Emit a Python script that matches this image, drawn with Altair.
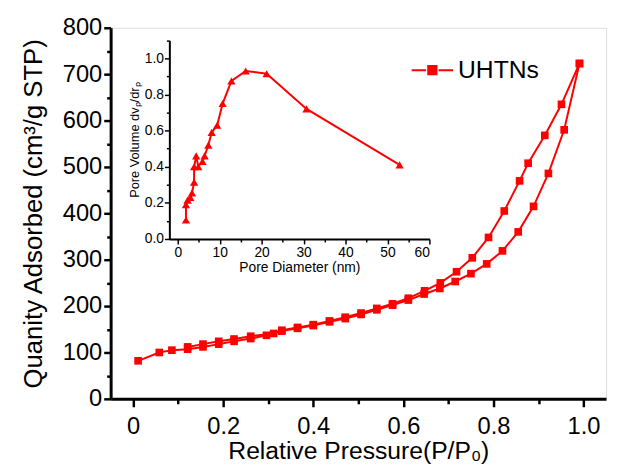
import altair as alt
import pandas as pd

# ---- data ----
ads_p = [0.011, 0.058, 0.086, 0.121, 0.155, 0.190, 0.224, 0.261, 0.296, 0.330, 0.365, 0.400,
         0.436, 0.471, 0.506, 0.541, 0.576, 0.611, 0.646, 0.681, 0.715, 0.750, 0.785, 0.820,
         0.855, 0.889, 0.922, 0.957, 0.991]
ads_v = [82, 100, 105, 107, 112, 118, 124, 130, 137, 146, 152, 158,
         166, 173, 182, 192, 202, 213, 226, 238, 253, 270, 291, 319,
         360, 415, 486, 580, 723]
des_p = [0.991, 0.951, 0.914, 0.877, 0.858, 0.824, 0.789, 0.753, 0.718, 0.682, 0.647,
         0.611, 0.576, 0.541, 0.506, 0.471, 0.436, 0.400, 0.365, 0.330, 0.312, 0.261,
         0.224, 0.190, 0.155, 0.121]
des_v = [723, 635, 568, 508, 470, 405, 348, 304, 274, 250, 233,
         217, 205, 195, 185, 176, 168, 160, 154, 148, 141, 135,
         129, 124, 118, 112]

pore_d = [1.96, 1.96, 2.35, 3.0, 3.4, 3.9, 3.9, 4.4, 4.9, 5.9, 6.4, 7.3, 8.1, 9.4,
          10.7, 12.8, 16.2, 21.2, 30.7, 52.9]
pore_v = [0.105, 0.19, 0.215, 0.23, 0.255, 0.315, 0.40, 0.46, 0.40, 0.43, 0.46, 0.52,
          0.59, 0.63, 0.75, 0.875, 0.93, 0.915, 0.72, 0.41]

main_x_ticks = [round(i * 0.1, 1) for i in range(11)]
main_y_ticks = list(range(0, 801, 50))
inset_x_ticks = list(range(0, 61, 5))
inset_y_ticks = [round(i * 0.1, 1) for i in range(12)]

rows = []
for i, (p, v) in enumerate(zip(ads_p, ads_v)):
    rows.append({"p": p, "v": v, "branch": "ads", "idx": i, "name": "UHTNs"})
for i, (p, v) in enumerate(zip(des_p, des_v)):
    rows.append({"p": p, "v": v, "branch": "des", "idx": i, "name": "UHTNs"})
main_df = pd.DataFrame(rows)
inset_df = pd.DataFrame({"d": pore_d, "dv": pore_v, "idx": list(range(len(pore_d)))})

FONT = "Liberation Sans"
W, H = 502, 376
RED = "#ff0000"

legend_symbol = "M -1.5 0 L -0.45 0 M 0.45 0 L 1.5 0 M -0.3 -0.3 L 0.3 -0.3 L 0.3 0.3 L -0.3 0.3 Z"

main_x = alt.X("p:Q",
    scale=alt.Scale(domain=[-0.05, 1.05], nice=False, zero=False),
    axis=alt.Axis(values=main_x_ticks, title="Relative Pressure(P/P₀)",
                  labelExpr="datum.value == 0 ? '0' : (round(datum.value*10) % 2 == 0 ? format(datum.value, '.1f') : '')",
                  tickSize={"condition": {"test": "round(datum.value*10) % 2 == 0", "value": 8}, "value": 5},
                  labelFontSize=24, titleFontSize=25, labelFont=FONT, titleFont=FONT,
                  titleFontWeight="normal", labelColor="black", titleColor="black",
                  domainColor="black", domainWidth=3, tickColor="black", tickWidth=2.5,
                  labelPadding=8, titlePadding=0, grid=False))
main_y = alt.Y("v:Q",
    scale=alt.Scale(domain=[0, 800], nice=False),
    axis=alt.Axis(values=main_y_ticks, title="Quanity Adsorbed (cm³/g STP)",
                  labelExpr="datum.value % 100 == 0 ? format(datum.value, 'd') : ''",
                  tickSize={"condition": {"test": "datum.value % 100 == 0", "value": 7}, "value": 4},
                  labelFontSize=24, titleFontSize=26, labelFont=FONT, titleFont=FONT,
                  titleFontWeight="normal", labelColor="black", titleColor="black",
                  domainColor="black", domainWidth=3, tickColor="black", tickWidth=2.5,
                  labelPadding=2, titlePadding=16, grid=False))

main_layer = alt.Chart(main_df).mark_line(
    strokeWidth=2,
    point=alt.OverlayMarkDef(shape="square", size=60, filled=True, color=RED, opacity=1),
).encode(
    x=main_x,
    y=main_y,
    detail="branch:N",
    order="idx:Q",
    color=alt.Color("name:N", scale=alt.Scale(range=[RED]),
                    legend=alt.Legend(title=None, orient="none", legendX=311, legendY=28,
                                      symbolType=legend_symbol, symbolSize=784,
                                      symbolStrokeWidth=2, symbolFillColor=RED,
                                      symbolStrokeColor=RED, labelFontSize=25,
                                      labelFont=FONT, labelColor="black",
                                      labelOffset=11, symbolOffset=0)),
)

inset_layer = alt.Chart(inset_df).mark_line(
    strokeWidth=2, color=RED,
    point=alt.OverlayMarkDef(shape="triangle-up", size=70, filled=True, color=RED, opacity=1),
).encode(
    x=alt.X("d:Q",
            scale=alt.Scale(domain=[-2, 60], range=[59.5, 323], nice=False, zero=False),
            axis=alt.Axis(orient="bottom", offset=-162, values=inset_x_ticks,
                          title="Pore Diameter (nm)",
                          labelExpr="datum.value % 10 == 0 ? format(datum.value, 'd') : ''",
                          tickSize={"condition": {"test": "datum.value % 10 == 0", "value": 5}, "value": 3},
                          labelFontSize=14, titleFontSize=14, labelFont=FONT, titleFont=FONT,
                          titleFontWeight="normal", labelColor="black", titleColor="black",
                          domainColor="black", domainWidth=2, tickColor="black", tickWidth=1.5,
                          labelPadding=2, titlePadding=1, grid=False)),
    y=alt.Y("dv:Q",
            scale=alt.Scale(domain=[0, 1.1], range=[214, 12.7], nice=False),
            axis=alt.Axis(orient="left", offset=-59.5, values=inset_y_ticks,
                          title="Pore Volume dvₚ/drₚ",
                          labelExpr="round(datum.value*10) % 2 == 0 ? format(datum.value, '.1f') : ''",
                          tickSize={"condition": {"test": "round(datum.value*10) % 2 == 0", "value": 5}, "value": 3},
                          labelFontSize=14, titleFontSize=13, labelFont=FONT, titleFont=FONT,
                          titleFontWeight="normal", labelColor="black", titleColor="black",
                          domainColor="black", domainWidth=2, tickColor="black", tickWidth=1.5,
                          labelPadding=1, titlePadding=3, grid=False)),
    order="idx:Q",
)

chart = alt.layer(main_layer, inset_layer).resolve_scale(
    x="independent", y="independent"
).properties(
    width=W, height=H,
    autosize=alt.AutoSizeParams(type="none"),
    padding={"left": 104, "top": 17, "right": 4, "bottom": 66},
).configure_view(
    stroke="black", strokeWidth=3
).configure(background="white")

chart.save("out.html", embed_options={"renderer": "svg", "actions": False})
